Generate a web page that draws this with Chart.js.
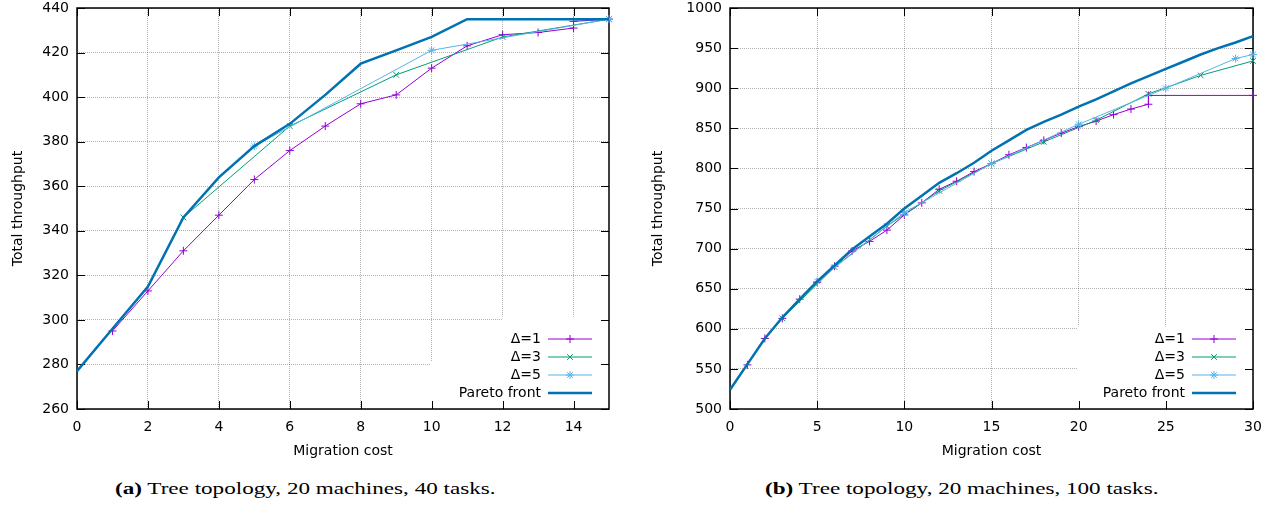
<!DOCTYPE html>
<html>
<head>
<meta charset="utf-8">
<script src="https://cdn.jsdelivr.net/npm/chart.js@4.4.0/dist/chart.umd.min.js"></script>
<style>
body{margin:0;background:#fff;width:1279px;height:510px;position:relative;overflow:hidden}
canvas{position:absolute;top:0}
#chartA{left:0}
#chartB{left:640px}
.cap{position:absolute;top:479px;font-family:"Liberation Serif",serif;font-size:17px;color:#000;white-space:nowrap;transform:scaleX(1.36);transform-origin:0 0}
</style>
</head>
<body>
<canvas id="chartA" width="640" height="470"></canvas>
<canvas id="chartB" width="639" height="470"></canvas>
<div class="cap" style="left:115px"><b>(a)</b> Tree topology, 20 machines, 40 tasks.</div>
<div class="cap" style="left:765px"><b>(b)</b> Tree topology, 20 machines, 100 tasks.</div>
<script>
// (a) 20 machines, 40 tasks
var costA1 = [1,2,3,4,5,6,7,8,9,10,11,12,13,14,14,15];
var thrA1  = [295,313,331,347,363,376,387,397,401,413,423,428,429,431,434,435];
var costA3 = [3,6,9,12,15];
var thrA3  = [346,387,410,427,435];
var costA5 = [5,10,15];
var thrA5  = [378,421,435];
var costAP = [0,1,2,3,4,5,6,7,8,9,10,11,12,13,14,15];
var thrAP  = [277,296,315,346,364,378,388,401,415,421,427,435,435,435,435,435];

// (b) 20 machines, 100 tasks
var costB1 = [1,2,3,4,5,6,7,8,9,10,11,12,13,14,15,16,17,18,19,20,21,22,23,24,24,30];
var thrB1  = [555,588,613,637,658,678,697,709,723,742,757,774,784,796,806,817,826,835,844,852,859,867,874,880,891,891];
var costB3 = [3,6,9,12,15,18,21,24,27,30];
var thrB3  = [613,677,728,772,806,833,860,893,916,934];
var costB5 = [5,10,15,20,25,29,30];
var thrB5  = [659,745,806,855,900,937,942];
var costBP = [0,1,2,3,4,5,6,7,8,9,10,11,12,13,14,15,16,17,18,19,20,21,22,23,24,25,26,27,28,29,30];
var thrBP  = [524,556,588,614,637,659,679,699,715,731,750,766,782,794,807,822,835,848,858,867,877,886,896,906,915,924,933,942,950,957,965];

var labels = ['\u0394=1','\u0394=3','\u0394=5','Pareto front'];
var colors = ['#9400d3','#009e73','#56b4e9','#0072b2'];
var styles = ['cross','crossRot','star',false];

var FONT = 'DejaVu Sans';
Chart.defaults.font.family = FONT;
Chart.defaults.font.size = 14;
Chart.defaults.color = '#000';

function pts(xs, ys){
  return xs.map(function(x, i){ return {x: x, y: ys[i]}; });
}

function makeDatasets(series){
  return series.map(function(s, i){
    var pareto = i == 3;
    return {
      label: labels[i],
      data: pts(s[0], s[1]),
      borderColor: colors[i],
      backgroundColor: colors[i],
      pointBorderColor: colors[i],
      borderWidth: pareto ? 2.5 : 1,
      pointStyle: styles[i],
      pointRadius: pareto ? 0 : 4,
      pointBorderWidth: 1,
      fill: false,
      tension: 0,
      clip: false,
      order: 3 - i
    };
  });
}

// gnuplot style frame, inward ticks, opaque key area and key
var gnuPlugin = {
  id: 'gnu',
  beforeDatasetsDraw: function(chart, args, opts){
    var ctx = chart.ctx, a = chart.chartArea, xs = chart.scales.x, ys = chart.scales.y;
    ctx.save();
    ctx.fillStyle = '#fff';
    (opts.masks || []).forEach(function(m){
      var x0 = xs.getPixelForValue(m[0]), y0 = ys.getPixelForValue(m[1]);
      ctx.fillRect(x0, y0, a.right - x0, a.bottom - y0);
    });
    ctx.strokeStyle = '#000';
    ctx.lineWidth = 1;
    ctx.beginPath();
    xs.ticks.forEach(function(t){
      var px = Math.round(xs.getPixelForValue(t.value)) + 0.5;
      ctx.moveTo(px, a.bottom); ctx.lineTo(px, a.bottom - 8);
      ctx.moveTo(px, a.top); ctx.lineTo(px, a.top + 8);
    });
    ys.ticks.forEach(function(t){
      var py = Math.round(ys.getPixelForValue(t.value)) + 0.5;
      ctx.moveTo(a.left, py); ctx.lineTo(a.left + 8, py);
      ctx.moveTo(a.right, py); ctx.lineTo(a.right - 8, py);
    });
    ctx.stroke();
    ctx.lineWidth = 1.5;
    ctx.strokeRect(a.left, a.top, a.right - a.left, a.bottom - a.top);
    ctx.restore();
  },
  afterDatasetsDraw: function(chart){
    var ctx = chart.ctx, a = chart.chartArea;
    var ds = chart.data.datasets, n = ds.length;
    ctx.save();
    ctx.font = '14px "' + FONT + '"';
    ctx.textAlign = 'right';
    ctx.textBaseline = 'middle';
    ds.forEach(function(d, i){
      var y = a.bottom - 16 - (n - 1 - i) * 18;
      ctx.fillStyle = '#000';
      ctx.fillText(d.label, a.right - 68, y);
      ctx.strokeStyle = d.borderColor;
      ctx.lineWidth = d.borderWidth;
      ctx.beginPath();
      ctx.moveTo(a.right - 61, y); ctx.lineTo(a.right - 17, y);
      ctx.stroke();
      if (d.pointStyle) {
        ctx.lineWidth = 1;
        Chart.helpers.drawPoint(ctx, {pointStyle: d.pointStyle, radius: 4, borderWidth: 1, rotation: 0}, a.right - 39, y);
      }
    });
    ctx.restore();
  }
};

function makeChart(id, series, xr, yr, leftW, padRight, masks){
  var ctx = document.getElementById(id);
  return new Chart(ctx, {
    type: 'line',
    data: {datasets: makeDatasets(series)},
    options: {
      responsive: false,
      animation: false,
      devicePixelRatio: 1,
      layout: {padding: {left: 0, right: padRight, top: 0, bottom: 0}},
      plugins: {legend: {display: false}, tooltip: {enabled: false}, gnu: {masks: masks}},
      scales: {
        x: {
          type: 'linear', min: xr[0], max: xr[1],
          ticks: {stepSize: xr[2], includeBounds: false, padding: 10},
          grid: {color: 'rgba(0,0,0,0.3)', drawTicks: false},
          border: {display: false, dash: [1, 1]},
          title: {display: true, text: 'Migration cost', padding: {top: 0, bottom: 10}},
          afterFit: function(s){ s.height = 61; }
        },
        y: {
          type: 'linear', min: yr[0], max: yr[1],
          ticks: {stepSize: yr[2], padding: 8, callback: function(v){ return String(v); }},
          grid: {color: 'rgba(0,0,0,0.3)', drawTicks: false},
          border: {display: false, dash: [1, 1]},
          title: {display: true, text: 'Total throughput', padding: {top: 10, bottom: 0}},
          afterFit: function(s){ s.width = leftW; s.paddingTop = 8; s.paddingBottom = 0; }
        }
      }
    },
    plugins: [gnuPlugin]
  });
}

makeChart('chartA',
  [[costA1, thrA1], [costA3, thrA3], [costA5, thrA5], [costAP, thrAP]],
  [0, 15, 2], [260, 440, 20], 77, 31,
  [[11.98, 301.5], [9.98, 281.5]]);

makeChart('chartB',
  [[costB1, thrB1], [costB3, thrB3], [costB5, thrB5], [costBP, thrBP]],
  [0, 30, 5], [500, 1000, 50], 90, 26,
  [[19.95, 603]]);
</script>
</body>
</html>
